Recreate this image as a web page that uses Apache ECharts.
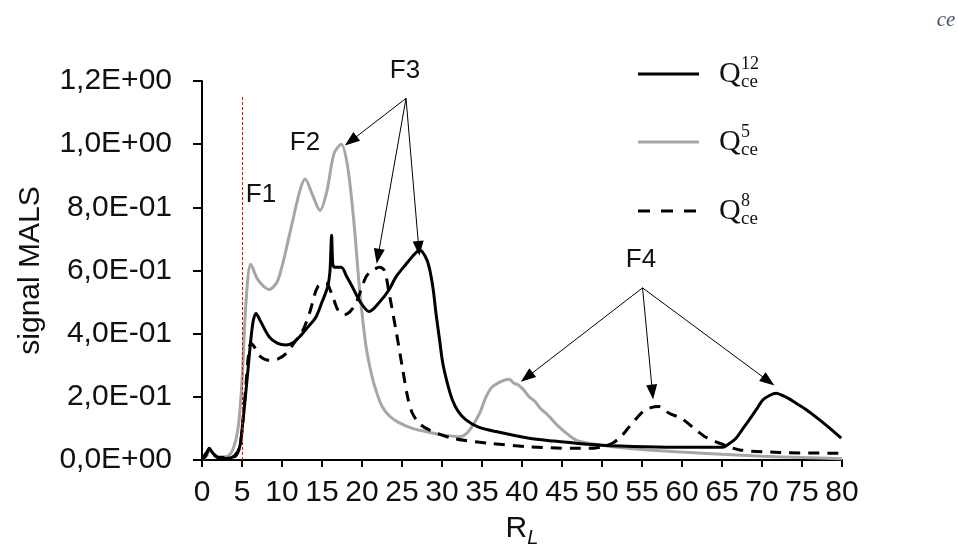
<!DOCTYPE html>
<html>
<head>
<meta charset="utf-8">
<script src="https://cdn.jsdelivr.net/npm/echarts@6/dist/echarts.min.js"></script>
<style>
html,body{margin:0;padding:0;background:#fff;}
#chart{width:958px;height:549px;}
</style>
</head>
<body>
<div id="chart"></div>
<script>
// ---- data ----
const xTicks = [0,5,10,15,20,25,30,35,40,45,50,55,60,65,70,75,80];
const yTicks = [0,0.2,0.4,0.6,0.8,1.0,1.2];

const rL_Q12 = [0,0.5,0.9,1.4,2.0,3.0,4.0,4.7,5.1,5.5,5.8,6.1,6.4,6.75,7.3,8.4,9.4,10.5,11.3,12.2,13.2,14.25,15.0,15.7,16.0,16.2,16.35,16.6,17.4,18.1,18.8,19.8,20.9,22.2,23.4,24.25,25.5,26.5,27.2,27.9,28.4,28.9,29.25,29.7,30.1,30.7,31.3,32.0,33,34.5,36.75,40.9,44,46.75,50,55.5,60,65.1,65.8,66.75,67.5,68.4,69.3,70.1,71,71.75,72.5,73.3,74.25,75.5,77.2,78.5,79.9];
const sig_Q12 = [0,0.015,0.037,0.02,0.008,0.005,0.012,0.04,0.12,0.22,0.3,0.38,0.44,0.464,0.44,0.39,0.37,0.364,0.37,0.39,0.42,0.453,0.5,0.548,0.6,0.712,0.62,0.61,0.61,0.58,0.548,0.5,0.47,0.5,0.54,0.58,0.62,0.65,0.665,0.645,0.61,0.54,0.464,0.38,0.306,0.24,0.19,0.155,0.127,0.105,0.09,0.069,0.06,0.053,0.047,0.042,0.04,0.04,0.05,0.069,0.095,0.127,0.16,0.19,0.205,0.211,0.205,0.195,0.18,0.16,0.127,0.1,0.069];

const rL_Q5 = [0,0.5,1.0,1.5,2.0,3.0,3.8,4.5,5.0,5.5,6.1,7.0,8.4,9.5,11.0,12.2,12.9,13.8,14.75,15.6,16.5,17.4,18.2,19.0,19.7,20.5,21.2,21.75,22.5,23.4,24.5,26.3,28.5,30.5,32.2,33.3,34.7,35.5,36.3,37.5,38.4,39.0,39.5,40.2,40.9,41.6,42.3,43.0,43.8,44.5,45.3,46.75,48.5,51.3,55,60,65,70,75,80];
const sig_Q5 = [0,0.01,0.03,0.02,0.01,0.01,0.03,0.1,0.25,0.5,0.62,0.57,0.54,0.57,0.72,0.85,0.89,0.84,0.79,0.85,0.97,1.0,0.93,0.75,0.54,0.36,0.27,0.22,0.17,0.14,0.12,0.1,0.087,0.078,0.074,0.09,0.148,0.2,0.232,0.25,0.256,0.243,0.238,0.222,0.2,0.186,0.163,0.148,0.127,0.108,0.09,0.063,0.052,0.042,0.033,0.025,0.018,0.012,0.008,0.004];

const rL_Q8 = [0,0.9,2,4,4.7,5.1,5.5,5.8,6.1,6.5,7.2,8.4,9.5,10.5,11.5,12.6,13.5,14.45,15.5,16.3,17.0,17.8,18.5,19.25,20.5,21.3,22.2,22.8,23.4,24.25,25.1,25.7,26.3,27.2,28.4,31.3,35.9,40.9,46.3,48.4,50,51.3,52.4,53.4,55.1,56,57.2,58.4,59.9,60.8,61.75,63,64.7,67.2,72.2,79.6,80];
const sig_Q8 = [0,0.03,0.008,0.01,0.04,0.12,0.24,0.33,0.37,0.36,0.33,0.316,0.32,0.337,0.37,0.41,0.47,0.548,0.56,0.52,0.475,0.46,0.47,0.496,0.58,0.6,0.61,0.6,0.527,0.41,0.285,0.2,0.148,0.115,0.095,0.069,0.053,0.042,0.037,0.037,0.042,0.053,0.075,0.105,0.153,0.165,0.169,0.148,0.132,0.115,0.095,0.072,0.053,0.032,0.024,0.021,0.02];

// annotation arrows: [fromX, fromY, toX, toY] in data units
const arrowsF3 = [[25.5,1.145,18.6,1.01],[25.5,1.145,22.0,0.645],[25.5,1.145,27.1,0.67]];
const arrowsF4 = [[55.07,0.545,40.6,0.262],[55.07,0.545,56.3,0.215],[55.07,0.545,70.8,0.25]];
const redLineX = 5;

// ---- helpers ----
const zip = (xs, ys) => xs.map((x, i) => [x, ys[i]]);
function sci(v) {
  const s = Number(v).toExponential(1);
  const parts = s.split('e');
  const m = parts[0].replace('.', ',');
  let e = parseInt(parts[1], 10);
  const sign = e < 0 ? '-' : '+';
  e = Math.abs(e);
  return m + 'E' + sign + (e < 10 ? '0' + e : '' + e);
}

const FONT = 'Liberation Sans, Arial, sans-serif';
const SERIF = 'Liberation Serif, serif';
const arrowData = arrowsF3.concat(arrowsF4).map(a => [{coord: [a[0], a[1]]}, {coord: [a[2], a[3]]}]);

function legendLabel(y, sup) {
  return [
    {type: 'text', x: 719, y: y, style: {text: 'Q', font: '30px ' + SERIF, fill: '#111', align: 'left', verticalAlign: 'middle'}},
    {type: 'text', x: 741, y: y - 10, style: {text: sup, font: '18px ' + SERIF, fill: '#111', align: 'left', verticalAlign: 'middle'}},
    {type: 'text', x: 741, y: y + 8, style: {text: 'ce', font: '19px ' + SERIF, fill: '#111', align: 'left', verticalAlign: 'middle'}}
  ];
}

const chart = echarts.init(document.getElementById('chart'), null, {renderer: 'canvas'});
chart.setOption({
  animation: false,
  backgroundColor: '#ffffff',
  grid: {left: 202, right: 116, top: 81, bottom: 89, containLabel: false, outerBoundsMode: 'none'},
  xAxis: {
    type: 'value', min: 0, max: 80, interval: 5,
    name: '{r|R}{l|L}', nameLocation: 'middle', nameGap: 54,
    nameTextStyle: {rich: {r: {fontSize: 30, fontFamily: FONT, color: '#111'}, l: {fontSize: 20, fontStyle: 'italic', fontFamily: FONT, color: '#111', verticalAlign: 'bottom', padding: [0,0,-4,0]}}},
    axisLine: {lineStyle: {color: '#000', width: 2}},
    axisTick: {show: true, length: 7, lineStyle: {color: '#000', width: 2}},
    axisLabel: {fontSize: 30, fontFamily: FONT, color: '#111', margin: 18,
      formatter: v => xTicks.indexOf(v) >= 0 ? String(v) : ''},
    splitLine: {show: false}
  },
  yAxis: {
    type: 'value', min: 0, max: 1.2, interval: 0.2,
    name: 'signal MALS', nameLocation: 'middle', nameGap: 156,
    nameTextStyle: {fontSize: 30, fontFamily: FONT, color: '#111'},
    axisLine: {show: true, lineStyle: {color: '#000', width: 2}},
    axisTick: {show: true, length: 9, lineStyle: {color: '#000', width: 2}},
    axisLabel: {fontSize: 30, fontFamily: FONT, color: '#111', margin: 30,
      formatter: v => sci(yTicks.reduce((a, b) => Math.abs(b - v) < Math.abs(a - v) ? b : a))},
    splitLine: {show: false}
  },
  series: [
    {
      name: 'Q8', type: 'line', data: zip(rL_Q8, sig_Q8), showSymbol: false, smooth: 0.3,
      lineStyle: {color: '#000', width: 3, type: [11, 8]}, z: 3, silent: true
    },
    {
      name: 'Q5', type: 'line', data: zip(rL_Q5, sig_Q5), showSymbol: false, smooth: 0.3,
      lineStyle: {color: '#a6a6a6', width: 3}, z: 2, silent: true,
      markLine: {
        silent: true, symbol: ['none', 'none'], animation: false,
        label: {show: false},
        lineStyle: {color: '#ff0000', width: 1, type: [3, 2]},
        data: [[{coord: [redLineX, 0]}, {coord: [redLineX, 1.15]}]]
      }
    },
    {
      name: 'Q12', type: 'line', data: zip(rL_Q12, sig_Q12), showSymbol: false, smooth: 0.3,
      lineStyle: {color: '#000', width: 3}, z: 4, silent: true,
      markLine: {
        silent: true, symbol: ['none', 'triangle'], symbolSize: [11, 15], animation: false,
        label: {show: false},
        lineStyle: {color: '#000', width: 1, type: 'solid'},
        itemStyle: {color: '#000'},
        emphasis: {disabled: true},
        data: arrowData
      }
    }
  ],
  graphic: [
    {type: 'text', x: 261, y: 195, style: {text: 'F1', font: '26px ' + FONT, fill: '#111', align: 'center', verticalAlign: 'middle'}},
    {type: 'text', x: 305, y: 143, style: {text: 'F2', font: '26px ' + FONT, fill: '#111', align: 'center', verticalAlign: 'middle'}},
    {type: 'text', x: 405, y: 71, style: {text: 'F3', font: '26px ' + FONT, fill: '#111', align: 'center', verticalAlign: 'middle'}},
    {type: 'text', x: 641, y: 260, style: {text: 'F4', font: '26px ' + FONT, fill: '#111', align: 'center', verticalAlign: 'middle'}},
    {type: 'text', x: 946, y: 20, style: {text: 'ce', font: 'italic 21px ' + SERIF, fill: '#44546a', align: 'center', verticalAlign: 'middle'}},
    // legend
    {type: 'line', shape: {x1: 638, y1: 74, x2: 699, y2: 74}, style: {stroke: '#000', lineWidth: 3}},
    {type: 'line', shape: {x1: 638, y1: 142, x2: 699, y2: 142}, style: {stroke: '#a6a6a6', lineWidth: 3}},
    {type: 'line', shape: {x1: 638, y1: 211, x2: 699, y2: 211}, style: {stroke: '#000', lineWidth: 3, lineDash: [12, 11]}}
  ].concat(legendLabel(74, '12'), legendLabel(142, '5'), legendLabel(211, '8'))
});
</script>
</body>
</html>
